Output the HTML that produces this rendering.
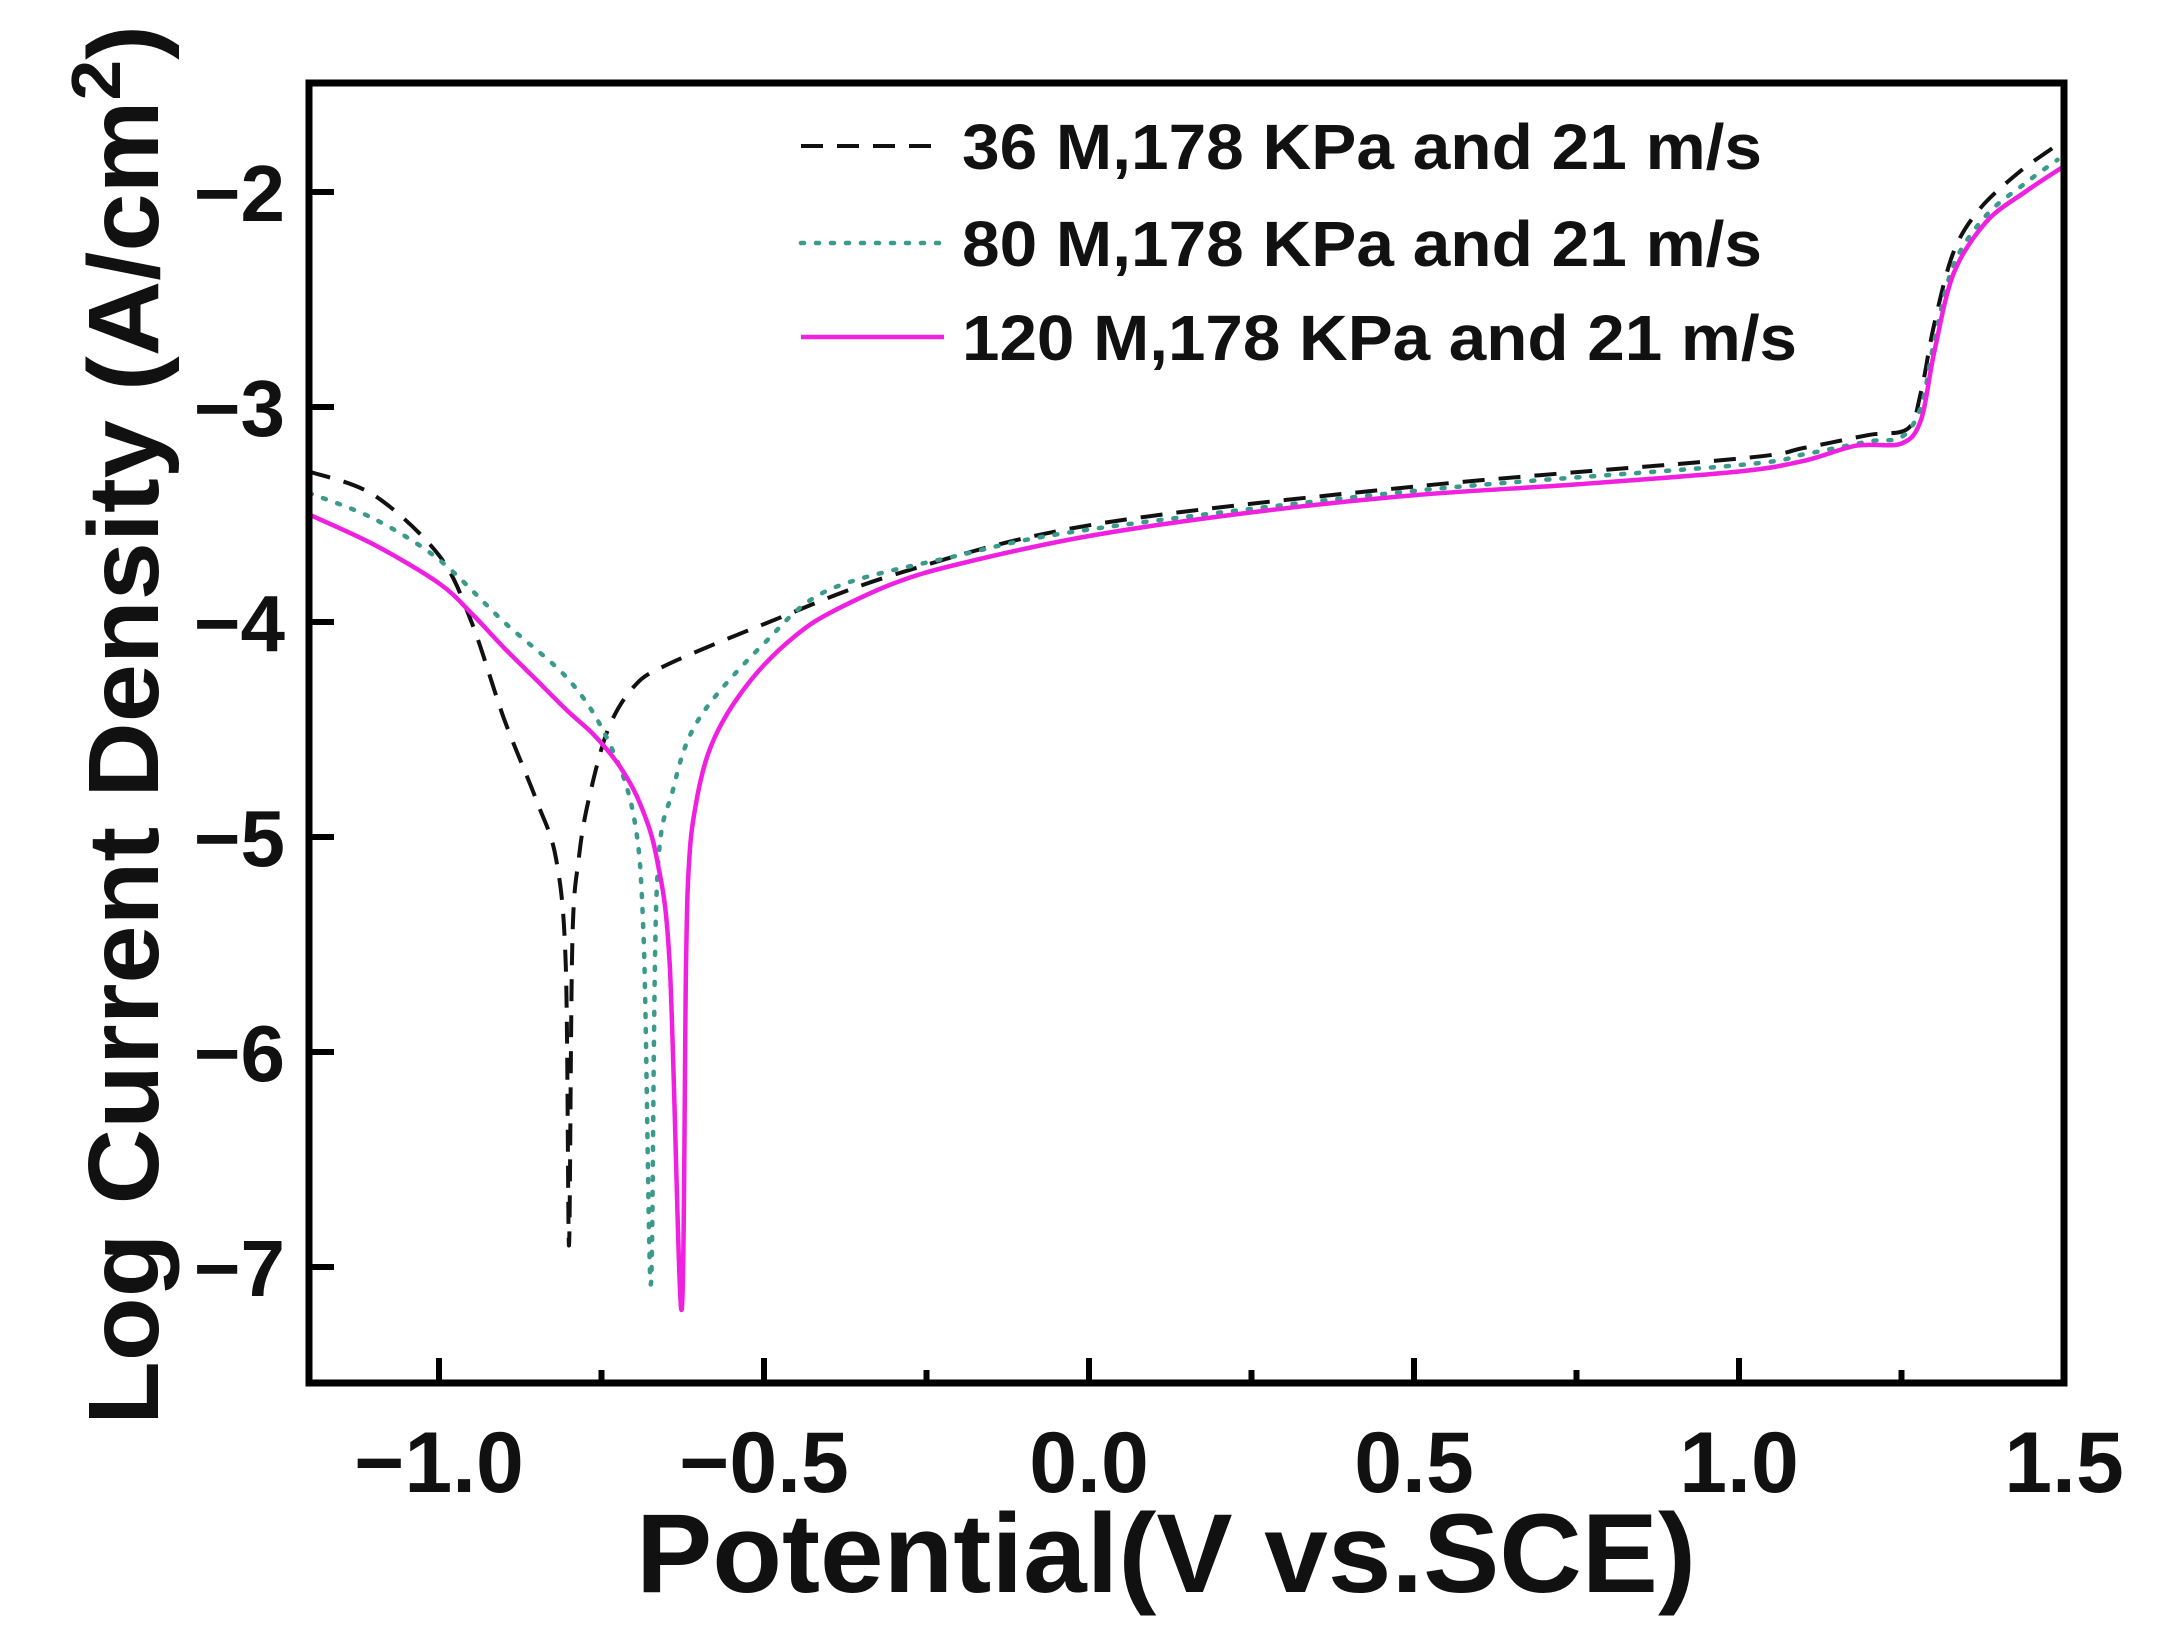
<!DOCTYPE html>
<html><head><meta charset="utf-8"><style>
html,body{margin:0;padding:0;background:#fff}
svg{display:block}
text{font-family:"Liberation Sans",Arial,sans-serif;font-weight:bold;fill:#111}
</style></head><body>
<svg id="s" width="2165" height="1641" viewBox="0 0 2165 1641" xmlns="http://www.w3.org/2000/svg">
<rect width="2165" height="1641" fill="#fff"/>
<g id="ticks" stroke="#000" stroke-width="6"></g>
<path id="dash" fill="none" stroke="#111" stroke-width="4" stroke-dasharray="22,14"/>
<path id="dot" fill="none" stroke="#3a9a8c" stroke-width="4.5" stroke-dasharray="3,12" stroke-linecap="round"/>
<path id="mag" fill="none" stroke="#f020e0" stroke-width="4.5"/>
<rect x="309" y="83" width="1755" height="1300" fill="none" stroke="#000" stroke-width="7"/>
<g font-size="86" text-anchor="middle">
<text x="439" y="1492">−1.0</text><text x="764" y="1492">−0.5</text><text x="1089" y="1492">0.0</text>
<text x="1414" y="1492">0.5</text><text x="1739" y="1492">1.0</text><text x="2064" y="1492">1.5</text>
</g>
<g font-size="80" text-anchor="end">
<text x="285" y="221">−2</text><text x="285" y="436">−3</text><text x="285" y="651">−4</text>
<text x="285" y="866">−5</text><text x="285" y="1081">−6</text><text x="285" y="1296">−7</text>
</g>
<text x="1166" y="1592" font-size="112" text-anchor="middle" textLength="1060" lengthAdjust="spacingAndGlyphs">Potential(V vs.SCE)</text>
<text transform="translate(158,725) rotate(-90)" font-size="100" text-anchor="middle" textLength="1400" lengthAdjust="spacingAndGlyphs">Log Current Density (A/cm<tspan dy="-38" font-size="70">2</tspan><tspan dy="38">)</tspan></text>
<line x1="801" y1="146" x2="944" y2="146" stroke="#111" stroke-width="4" stroke-dasharray="22,14"/>
<line x1="801" y1="243" x2="944" y2="243" stroke="#3a9a8c" stroke-width="4.5" stroke-dasharray="3,12" stroke-linecap="round"/>
<line x1="801" y1="337" x2="944" y2="337" stroke="#f020e0" stroke-width="4.5"/>
<g font-size="64">
<text x="962" y="169" textLength="800" lengthAdjust="spacingAndGlyphs">36 M,178 KPa and 21 m/s</text>
<text x="962" y="266" textLength="800" lengthAdjust="spacingAndGlyphs">80 M,178 KPa and 21 m/s</text>
<text x="962" y="360" textLength="835" lengthAdjust="spacingAndGlyphs">120 M,178 KPa and 21 m/s</text>
</g>
</svg>
<script>
function X(v){return 439+(v+1)*650}
function Y(l){return 192+(-2-l)*215}
function path(pts){
  var p=pts.map(function(a){return [X(a[0]),Y(a[1])]});
  var d="M"+p[0][0].toFixed(1)+","+p[0][1].toFixed(1);
  for(var i=0;i<p.length-1;i++){
    var p0=p[i-1]||p[i],p1=p[i],p2=p[i+1],p3=p[i+2]||p2;
    var t=0.16;
    var c1=[p1[0]+(p2[0]-p0[0])*t,p1[1]+(p2[1]-p0[1])*t];
    var c2=[p2[0]-(p3[0]-p1[0])*t,p2[1]-(p3[1]-p1[1])*t];
    d+="C"+c1[0].toFixed(1)+","+c1[1].toFixed(1)+" "+c2[0].toFixed(1)+","+c2[1].toFixed(1)+" "+p2[0].toFixed(1)+","+p2[1].toFixed(1);
  }
  return d;
}
var mag=[[-1.2,-3.5],[-1.1,-3.64],[-1.0,-3.82],[-0.95,-3.96],[-0.9,-4.12],[-0.85,-4.27],[-0.8,-4.42],[-0.76,-4.53],[-0.72,-4.68],[-0.69,-4.85],[-0.665,-5.1],[-0.645,-5.6],[-0.627,-7.2],[-0.62,-5.6],[-0.615,-5.1],[-0.605,-4.85],[-0.59,-4.65],[-0.57,-4.5],[-0.54,-4.35],[-0.5,-4.2],[-0.45,-4.06],[-0.4,-3.96],[-0.3,-3.82],[-0.2,-3.73],[0,-3.6],[0.25,-3.49],[0.5,-3.41],[0.75,-3.36],[1.0,-3.3],[1.1,-3.25],[1.18,-3.18],[1.25,-3.17],[1.28,-3.06],[1.3,-2.75],[1.33,-2.38],[1.38,-2.14],[1.44,-2.0],[1.5,-1.88]];
var dash=[[-1.2,-3.3],[-1.1,-3.41],[-1.0,-3.69],[-0.95,-4.0],[-0.9,-4.45],[-0.85,-4.83],[-0.82,-5.1],[-0.805,-5.6],[-0.80,-6.9],[-0.795,-5.5],[-0.785,-5.1],[-0.77,-4.83],[-0.74,-4.5],[-0.7,-4.3],[-0.65,-4.2],[-0.5,-4.01],[-0.3,-3.78],[0,-3.55],[0.5,-3.37],[1.0,-3.24],[1.1,-3.19],[1.2,-3.13],[1.26,-3.1],[1.28,-2.93],[1.3,-2.62],[1.33,-2.28],[1.37,-2.08],[1.43,-1.91],[1.49,-1.78]];
var dot=[[-1.2,-3.4],[-1.1,-3.52],[-1.0,-3.71],[-0.9,-4.0],[-0.8,-4.27],[-0.74,-4.55],[-0.7,-4.91],[-0.685,-5.49],[-0.674,-7.08],[-0.665,-5.24],[-0.64,-4.78],[-0.6,-4.45],[-0.5,-4.1],[-0.4,-3.85],[-0.2,-3.69],[0,-3.57],[0.5,-3.39],[1.0,-3.27],[1.1,-3.22],[1.2,-3.16],[1.25,-3.14],[1.28,-3.0],[1.3,-2.7],[1.33,-2.34],[1.38,-2.11],[1.44,-1.96],[1.49,-1.85]];
document.getElementById('mag').setAttribute('d',path(mag));
document.getElementById('dash').setAttribute('d',path(dash));
document.getElementById('dot').setAttribute('d',path(dot));
var g=document.getElementById('ticks'),h='';
for(var v=-1.0;v<=1.51;v+=0.25){var x=X(v),maj=Math.abs(Math.round(v*2)-v*2)<0.01;h+='<line x1="'+x+'" y1="1383" x2="'+x+'" y2="'+(maj?1358:1370)+'"/>';}
for(var l=-2;l>=-7;l--){var y=Y(l);h+='<line x1="309" y1="'+y+'" x2="334" y2="'+y+'"/>';}
g.innerHTML=h;
</script>
</body></html>
